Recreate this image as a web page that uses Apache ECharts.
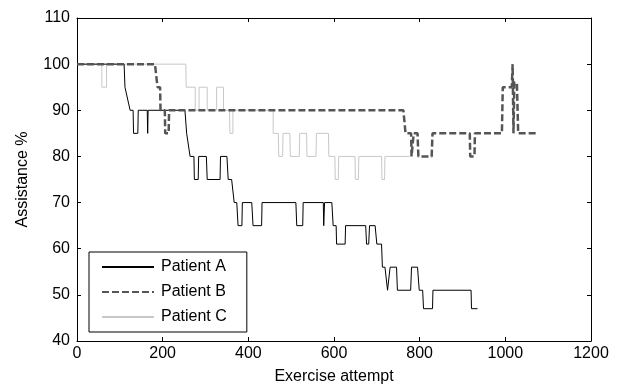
<!DOCTYPE html>
<html>
<head>
<meta charset="utf-8">
<script src="https://cdn.jsdelivr.net/npm/echarts@6/dist/echarts.min.js"></script>
<style>html,body{margin:0;padding:0;background:#fff}#c{width:619px;height:390px}</style>
</head>
<body>
<div id="c"></div>
<script>
const seriesNames = ['Patient A', 'Patient B', 'Patient C'];
const xTicks = [0, 200, 400, 600, 800, 1000, 1200];
const yTicks = [40, 50, 60, 70, 80, 90, 100, 110];

const patientA = [[0,100],[110,100],[112,95],[124,90],[131,90],[132,85],[142,85],[143,90],[164,90],[165,85],[166,90],
  [252,90],[256,85],[264,80],[273,80],[274,75],[283,75],[284,80],[302,80],[304,75],[334,75],[335,80],[350,80],[353,75],
  [361,75],[367,70],[373,70],[376,65],[385,65],[386,70],[408,70],[411,65],[431,65],[432,70],[511,70],[513,65],[527,65],
  [528,70],[575,70],[576,65],[578,70],[595,70],[598,65],[605,65],[606,61],[626,61],[627,65],[674,65],[676,61],[681,61],
  [683,65],[696,65],[700,61],[711,61],[713,56],[719,56],[725,51],[731,56],[746,56],[748,51],[779,51],[781,56],[795,56],
  [799,51],[807,51],[809,47],[830,47],[831,51],[920,51],[921,47],[935,47]];

const patientB = [[0,100],[182,100],[188,95],[194,95],[195,90],[205,90],[206,85],[214,85],[215,90],[762,90],[767,85],
  [780,85],[781,80],[785,80],[786,85],[795,85],[797,80],[828,80],[830,85],[917,85],[918,80],[928,80],[929,85],[992,85],
  [994,95],[1015,95],[1017,100],[1019,85],[1021,96],[1027,96],[1030,85],[1077,85]];

const patientC = [[0,100],[58,100],[58,95],[69,95],[69,100],[254,100],[255,95],[276,95],[276,90],[285,90],[285,95],
  [304,95],[304,90],[326,90],[326,95],[342,95],[342,90],[356,90],[357,85],[364,85],[364,90],[458,90],[458,85],[470,85],
  [471,80],[480,80],[481,85],[497,85],[498,80],[519,80],[520,85],[536,85],[537,80],[558,80],[559,85],[587,85],[588,80],
  [602,80],[603,75],[610,75],[611,80],[649,80],[650,75],[657,75],[658,80],[711,80],[712,75],[718,75],[719,80],[777,80]];

const font = "'Liberation Sans', Arial, sans-serif";
const fs = 16;
const chart = echarts.init(document.getElementById('c'), null, {renderer: 'canvas'});
const axisCommon = {
  axisLine: {show: true, onZero: false, lineStyle: {color: '#000', width: 1}},
  axisTick: {show: true, inside: true, length: 4, lineStyle: {color: '#000'}},
  splitLine: {show: false}
};
chart.setOption({
  animation: false,
  backgroundColor: '#fff',
  grid: {left: 77, right: 28, top: 18, bottom: 46},
  legend: {
    data: seriesNames.map(n => ({name: n})),
    orient: 'vertical',
    left: 89, top: 252,
    itemWidth: 52, itemHeight: 16, itemGap: 9,
    padding: [7, 20, 7, 12],
    backgroundColor: '#fff',
    borderColor: '#000', borderWidth: 1, borderRadius: 0,
    itemStyle: {opacity: 0},
    textStyle: {fontFamily: font, fontSize: fs, color: '#000', padding: [0, 0, 0, 2]}
  },
  xAxis: [
    Object.assign({type: 'value', min: xTicks[0], max: xTicks[xTicks.length-1], interval: 200, position: 'bottom',
      name: 'Exercise attempt', nameLocation: 'middle', nameGap: 28,
      nameTextStyle: {fontFamily: font, fontSize: fs, color: '#000'},
      axisLabel: {fontFamily: font, fontSize: fs, color: '#000', margin: 5, formatter: v => String(v)}}, axisCommon),
    Object.assign({type: 'value', min: xTicks[0], max: xTicks[xTicks.length-1], interval: 200, position: 'top',
      axisLabel: {show: false}}, axisCommon)
  ],
  yAxis: [
    Object.assign({type: 'value', min: yTicks[0], max: yTicks[yTicks.length-1], interval: 10, position: 'left',
      name: 'Assistance %', nameLocation: 'middle', nameGap: 46,
      nameTextStyle: {fontFamily: font, fontSize: fs, color: '#000'},
      axisLabel: {fontFamily: font, fontSize: fs, color: '#000', margin: 7}}, axisCommon),
    Object.assign({type: 'value', min: yTicks[0], max: yTicks[yTicks.length-1], interval: 10, position: 'right',
      axisLabel: {show: false}}, axisCommon)
  ],
  series: [
    {name: seriesNames[0], type: 'line', data: patientA, symbol: 'none', z: 3,
      lineStyle: {color: '#000', width: 1}, itemStyle: {color: '#000'}},
    {name: seriesNames[1], type: 'line', data: patientB, symbol: 'none', z: 4,
      lineStyle: {color: '#555', width: 2.5, type: [7, 3]}, itemStyle: {color: '#555'}},
    {name: seriesNames[2], type: 'line', data: patientC, symbol: 'none', z: 2,
      lineStyle: {color: '#c8c8c8', width: 1}, itemStyle: {color: '#c8c8c8'}}
  ]
});
</script>
</body>
</html>
